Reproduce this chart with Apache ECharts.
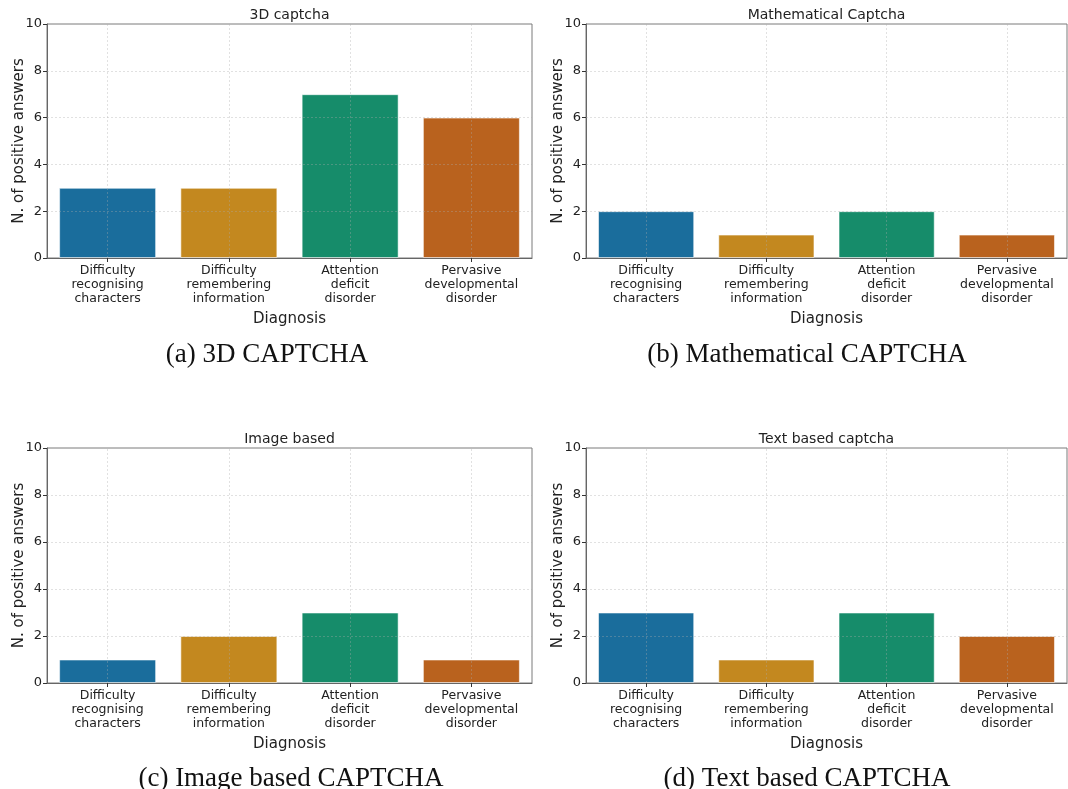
<!DOCTYPE html>
<html>
<head>
<meta charset="utf-8">
<title>CAPTCHA difficulty by diagnosis</title>
<script src="https://cdn.jsdelivr.net/npm/echarts@6/dist/echarts.min.js"></script>
<style>
  html, body { margin: 0; padding: 0; background: #ffffff; }
  #chart { width: 1068px; height: 789px; }
</style>
</head>
<body>
<div id="chart"></div>
<script>
// Diagnosis categories shown on every x axis
const categories = [
  'Difficulty\nrecognising\ncharacters',
  'Difficulty\nremembering\ninformation',
  'Attention\ndeficit\ndisorder',
  'Pervasive\ndevelopmental\ndisorder'
];

// Number of positive answers per CAPTCHA type
const values3D = [3, 3, 7, 6];
const valuesMath = [2, 1, 2, 1];
const valuesImage = [1, 2, 3, 1];
const valuesText = [3, 1, 3, 2];

const yTicks = [0, 2, 4, 6, 8, 10];

const panelTitles = ['3D captcha', 'Mathematical Captcha', 'Image based', 'Text based captcha'];
const captions = ['(a) 3D CAPTCHA', '(b) Mathematical CAPTCHA', '(c) Image based CAPTCHA', '(d) Text based CAPTCHA'];

const palette = ['#1a6d9c', '#c3881f', '#168c6a', '#b9621e'];

const panelData = [values3D, valuesMath, valuesImage, valuesText];

// Plot-area boxes (pixels) for the 2x2 layout
const grids = [
  { left: 47, top: 24, width: 485, height: 234 },
  { left: 586, top: 24, width: 481, height: 234 },
  { left: 47, top: 448, width: 485, height: 235 },
  { left: 586, top: 448, width: 481, height: 235 }
];
const captionCenters = [[267, 352], [807, 352], [291, 776], [807, 776]];

const sans = 'DejaVu Sans';
const gridLineStyle = { color: 'rgba(170,170,170,0.45)', width: 0.8, type: [2, 2] };

const option = {
  animation: false,
  backgroundColor: '#ffffff',
  color: palette,
  title: [],
  grid: [],
  xAxis: [],
  yAxis: [],
  series: []
};

grids.forEach((g, i) => {
  option.grid.push(Object.assign({
    show: true, borderColor: '#7a7a7a', borderWidth: 1, backgroundColor: 'transparent'
  }, g));

  option.title.push({
    text: panelTitles[i],
    left: g.left + g.width / 2,
    top: g.top - 16,
    padding: 0,
    textAlign: 'center',
    textStyle: { fontFamily: sans, fontSize: 14, fontWeight: 'normal', color: '#222' }
  });

  option.title.push({
    text: captions[i],
    left: captionCenters[i][0],
    top: captionCenters[i][1] - 11,
    padding: 0,
    textAlign: 'center',
    textStyle: { fontFamily: 'Liberation Serif', fontSize: 27, fontWeight: 'normal', color: '#111' }
  });

  option.xAxis.push({
    type: 'category',
    gridIndex: i,
    data: categories,
    name: 'Diagnosis',
    nameLocation: 'middle',
    nameGap: 54,
    nameMoveOverlap: false,
    nameTextStyle: { fontFamily: sans, fontSize: 15, color: '#222' },
    axisLine: { show: true, lineStyle: { color: '#666', width: 1 } },
    axisTick: { show: true, alignWithLabel: true, length: 4, lineStyle: { color: '#333' } },
    axisLabel: {
      interval: 0, fontFamily: sans, fontSize: 12.5, color: '#222',
      lineHeight: 14, margin: 6
    },
    splitLine: { show: false }
  });

  option.yAxis.push({
    type: 'value',
    gridIndex: i,
    min: 0,
    max: 10,
    interval: 2,
    name: 'N. of positive answers',
    nameLocation: 'middle',
    nameGap: 20,
    nameMoveOverlap: false,
    nameTextStyle: { fontFamily: sans, fontSize: 15, color: '#222' },
    axisLine: { show: true, lineStyle: { color: '#666', width: 1 } },
    axisTick: { show: true, length: 4, lineStyle: { color: '#333' } },
    axisLabel: { fontFamily: sans, fontSize: 13, color: '#222', margin: 5 },
    splitLine: { show: false }
  });

  // grid lines drawn over the bars, at each category centre and each y tick
  const lines = categories.map(c => ({ xAxis: c }))
    .concat(yTicks.slice(1, -1).map(v => ({ yAxis: v })));

  option.series.push({
    type: 'bar',
    xAxisIndex: i,
    yAxisIndex: i,
    data: panelData[i],
    colorBy: 'data',
    barCategoryGap: '20%',
    itemStyle: { borderColor: 'rgba(255,255,255,0.55)', borderWidth: 1 },
    markLine: {
      silent: true,
      symbol: 'none',
      label: { show: false },
      lineStyle: gridLineStyle,
      data: lines
    }
  });
});

const chart = echarts.init(document.getElementById('chart'), null, { renderer: 'canvas' });
chart.setOption(option);
</script>
</body>
</html>
